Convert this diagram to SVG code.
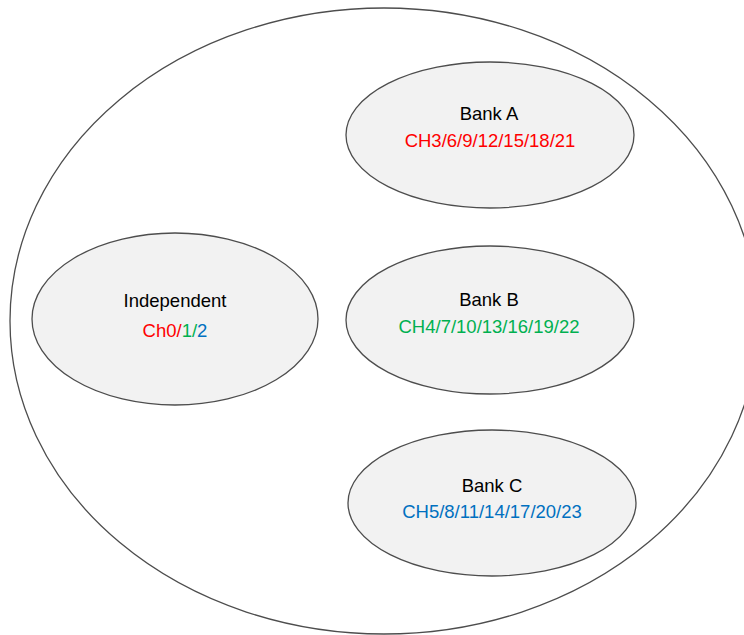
<svg xmlns="http://www.w3.org/2000/svg" width="744" height="635" viewBox="0 0 744 635">
<style>
.outer{fill:#ffffff;stroke:#4d4d4d;stroke-width:1.3}
.node{fill:#f2f2f2;stroke:#4d4d4d;stroke-width:1.3}
text{font-family:"Liberation Sans",Arial,sans-serif;font-size:18.5px;text-anchor:middle}
.t{fill:#000000}
.r{fill:#ff0000}
.g{fill:#00b050}
.b{fill:#0070c0}
</style>
<rect width="744" height="635" fill="#ffffff"/>
<g id="outer">
<ellipse class="outer" cx="384" cy="321" rx="374" ry="313"/>
</g>
<g id="connectors"></g>
<g id="bankA">
<ellipse class="node" cx="490" cy="135" rx="144" ry="73"/>
<text class="t" x="489" y="120">Bank A</text>
<text class="r" x="490" y="147">CH3/6/9/12/15/18/21</text>
</g>
<g id="bankB">
<ellipse class="node" cx="490" cy="320" rx="144" ry="74"/>
<text class="t" x="489" y="306">Bank B</text>
<text class="g" x="489" y="333">CH4/7/10/13/16/19/22</text>
</g>
<g id="bankC">
<ellipse class="node" cx="492" cy="503" rx="144" ry="73"/>
<text class="t" x="492" y="492">Bank C</text>
<text class="b" x="492" y="518">CH5/8/11/14/17/20/23</text>
</g>
<g id="independent">
<ellipse class="node" cx="175" cy="319" rx="143" ry="86"/>
<text class="t" x="175" y="307">Independent</text>
<text x="175" y="337"><tspan class="r">Ch0/</tspan><tspan class="g">1/</tspan><tspan class="b">2</tspan></text>
</g>
</svg>
